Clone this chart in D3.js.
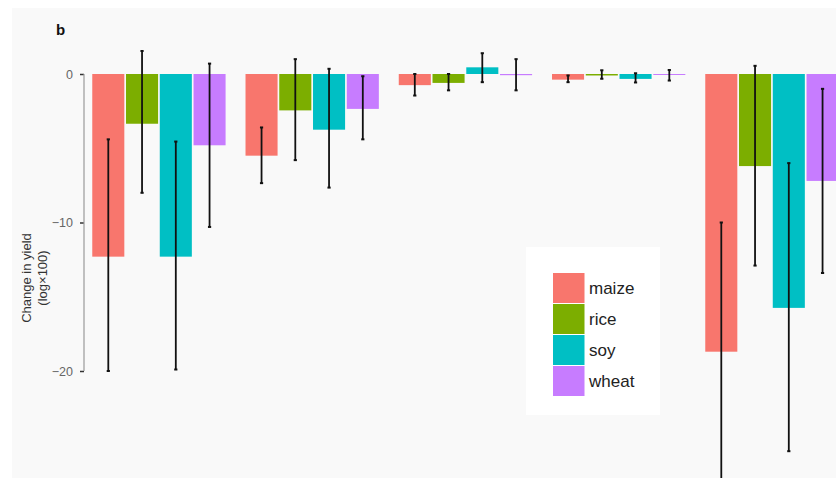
<!DOCTYPE html>
<html><head><meta charset="utf-8">
<script src="https://cdn.jsdelivr.net/npm/d3@7"></script>
<style>html,body{margin:0;padding:0;background:#fff;}svg{display:block;}</style>
</head><body>
<svg id="chart" width="836" height="478"></svg>
<script>
const groups = ["g1","g2","g3","g4","g5"];
const crops = ["maize","rice","soy","wheat"];
const colors = ["#F8766D","#7CAE00","#00BFC4","#C77CFF"];
// values per group, in crop order
const maizeVals = [-12.3, -5.5, -0.75, -0.38, -18.7];
const riceVals  = [-3.35, -2.45, -0.6, -0.1, -6.2];
const soyVals   = [-12.3, -3.75, 0.45, -0.33, -15.75];
const wheatVals = [-4.8, -2.35, -0.08, -0.05, -7.2];
const maizeLo = [-20.0, -7.35, -1.45, -0.55, -27.6];
const maizeHi = [-4.4, -3.6, 0.0, -0.1, -10.0];
const riceLo  = [-8.0, -5.8, -1.1, -0.32, -12.9];
const riceHi  = [1.55, 1.0, 0.0, 0.25, 0.55];
const soyLo   = [-19.9, -7.65, -0.55, -0.57, -25.4];
const soyHi   = [-4.55, 0.35, 1.4, 0.05, -6.0];
const wheatLo = [-10.3, -4.4, -1.1, -0.44, -13.4];
const wheatHi = [0.7, -0.15, 1.0, 0.27, -1.0];
const yTicks = [0, -10, -20];
const yTickLabels = ["0", "\u221210", "\u221220"];

const vals = [maizeVals, riceVals, soyVals, wheatVals];
const los = [maizeLo, riceLo, soyLo, wheatLo];
const his = [maizeHi, riceHi, soyHi, wheatHi];
const data = [];
groups.forEach((g, gi) => crops.forEach((c, ci) => data.push({g, c, v: vals[ci][gi], lo: los[ci][gi], hi: his[ci][gi]})));

const svg = d3.select("#chart");
svg.append("rect").attr("x", 12).attr("y", 8).attr("width", 836).attr("height", 480).attr("fill", "#f9f9f9");

const x0 = d3.scaleBand().domain(groups).range([82.3, 848.55]).paddingInner(0.13).paddingOuter(0.065);
const x1 = d3.scaleBand().domain(crops).range([0, x0.bandwidth()]).paddingInner(0.05).paddingOuter(0);
const y = d3.scaleLinear().domain([-20, 0]).range([371, 74]);
const color = d3.scaleOrdinal().domain(crops).range(colors);

const g = svg.append("g");
g.selectAll("rect.bar").data(data).enter().append("rect").attr("class", "bar")
  .attr("x", d => x0(d.g) + x1(d.c))
  .attr("width", x1.bandwidth())
  .attr("y", d => Math.min(y(d.v), y(0)))
  .attr("height", d => Math.max(1, Math.abs(y(d.v) - y(0))))
  .attr("fill", d => color(d.c));

const eb = g.selectAll("g.eb").data(data).enter().append("g").attr("class", "eb")
  .attr("transform", d => `translate(${x0(d.g) + x1(d.c) + x1.bandwidth()/2},0)`);
eb.append("line").attr("x1", 0).attr("x2", 0).attr("y1", d => y(d.hi)).attr("y2", d => y(d.lo))
  .attr("stroke", "#111").attr("stroke-width", 1.8);
eb.append("line").attr("x1", -1.6).attr("x2", 1.6).attr("y1", d => y(d.hi)).attr("y2", d => y(d.hi))
  .attr("stroke", "#111").attr("stroke-width", 2);
eb.append("line").attr("x1", -1.6).attr("x2", 1.6).attr("y1", d => y(d.lo)).attr("y2", d => y(d.lo))
  .attr("stroke", "#111").attr("stroke-width", 2);

// y axis (range frame)
const ax = svg.append("g").attr("transform", "translate(84,0)")
  .call(d3.axisLeft(y).tickValues(yTicks).tickSize(4).tickPadding(7).tickFormat((d, i) => yTickLabels[i]));
ax.select(".domain").remove();
ax.selectAll(".tick line").attr("stroke", "#333").attr("stroke-width", 1.5);
ax.selectAll(".tick text").attr("fill", "#666").style("font-family", "Liberation Sans, Arial, sans-serif").style("font-size", "12.5px");
svg.append("line").attr("x1", 84).attr("x2", 84).attr("y1", y(0)).attr("y2", y(-20)).attr("stroke", "#999").attr("stroke-width", 1.2);

// y title
const yt = svg.append("text").attr("transform", "translate(31,278) rotate(-90)")
  .attr("text-anchor", "middle").attr("fill", "#333")
  .style("font-family", "Liberation Sans, Arial, sans-serif").style("font-size", "13px");
yt.append("tspan").attr("x", 0).attr("dy", 0).text("Change in yield");
yt.append("tspan").attr("x", 0).attr("dy", 16).text("(log\u00d7100)");

// panel label
svg.append("text").attr("x", 56).attr("y", 35).text("b").attr("fill", "#111")
  .style("font-family", "Liberation Sans, Arial, sans-serif").style("font-size", "15px").style("font-weight", "bold");

// legend
const lg = svg.append("g");
lg.append("rect").attr("x", 526).attr("y", 247).attr("width", 134).attr("height", 168).attr("fill", "#fff");
crops.forEach((c, i) => {
  lg.append("rect").attr("x", 553).attr("y", 273 + i * 31).attr("width", 31.5).attr("height", 30)
    .attr("fill", color(c));
  lg.append("text").attr("x", 589).attr("y", 294 + i * 31).text(c).attr("fill", "#222")
    .style("font-family", "Liberation Sans, Arial, sans-serif").style("font-size", "17px");
});
</script>
</body></html>
